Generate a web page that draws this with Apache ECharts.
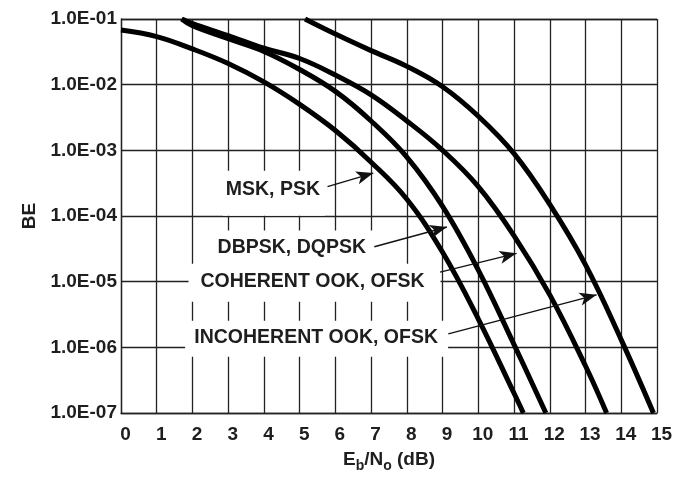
<!DOCTYPE html>
<html>
<head>
<meta charset="utf-8">
<script src="https://cdn.jsdelivr.net/npm/echarts@6/dist/echarts.min.js"></script>
<style>
  html, body { margin: 0; padding: 0; background: #fff; }
  #chart { width: 680px; height: 478px; }
</style>
</head>
<body>
<div id="chart"></div>
<script>
// Eb/No (dB) vs BE
const ebnoMsk = [0, 1, 2, 3, 4, 5, 6, 7, 8, 9, 10, 11, 11.26]
const beMsk = [6.8e-2, 5.4e-2, 3.5e-2, 2.1e-2, 1.1e-2, 5.0e-3, 2.0e-3, 6.6e-4, 1.8e-4, 2.8e-5, 2.7e-6, 2.0e-7, 1.0e-7]

const ebnoDbpsk = [1.7, 2, 3, 4, 5, 6, 7, 8, 9, 10, 11, 11.89]
const beDbpsk = [1.0e-1, 7.9e-2, 5.0e-2, 3.2e-2, 1.7e-2, 7.9e-3, 2.8e-3, 7.9e-4, 1.4e-4, 1.5e-5, 1.1e-6, 1.0e-7]

const ebnoCoherent = [1.7, 2, 3, 4, 5, 6, 7, 8, 9, 10, 11, 12, 13, 13.59]
const beCoherent = [1.0e-1, 8.5e-2, 5.6e-2, 3.6e-2, 2.5e-2, 1.4e-2, 7.0e-3, 2.8e-3, 1.0e-3, 2.8e-4, 5.0e-5, 6.3e-6, 5.2e-7, 1.0e-7]

const ebnoIncoherent = [5.15, 6, 7, 8, 9, 10, 11, 12, 13, 14, 14.9]
const beIncoherent = [1.0e-1, 5.9e-2, 3.3e-2, 1.9e-2, 9.3e-3, 3.3e-3, 8.9e-4, 1.5e-4, 1.8e-5, 1.3e-6, 1.0e-7]

const xTicks = [0, 1, 2, 3, 4, 5, 6, 7, 8, 9, 10, 11, 12, 13, 14, 15]

// callouts (data coordinates)
const labelText = ['MSK, PSK', 'DBPSK, DQPSK', 'COHERENT OOK, OFSK', 'INCOHERENT OOK, OFSK']
const labelAt = [[4.25, 2.5e-4], [4.78, 3.3e-5], [5.36, 1.0e-5], [5.46, 1.4e-6]]
const arrowTail = [[5.78, 2.8e-4], [7.09, 3.4e-5], [8.93, 1.4e-5], [9.16, 1.6e-6]]
const arrowTip = [[7.06, 4.5e-4], [9.12, 6.8e-5], [11.07, 2.7e-5], [13.31, 6.3e-6]]
// white boxes behind the callout text: [dx, dy, w, h] in px from text centre
const labelBox = [[-50, -19, 102, 45], [-82, -17, 166, 34], [-124, -18, 252, 38], [-131, -17, 263, 36]]

const FONT = '"Liberation Sans", Arial, sans-serif'
const INK = '#1e1e1e'

const curveX = [ebnoMsk, ebnoDbpsk, ebnoCoherent, ebnoIncoherent]
const curveY = [beMsk, beDbpsk, beCoherent, beIncoherent]

const chart = echarts.init(document.getElementById('chart'))

const option = {
  animation: false,
  backgroundColor: '#fff',
  grid: { left: 121, right: 23, top: 19, bottom: 60 },
  xAxis: {
    type: 'value',
    min: xTicks[0],
    max: xTicks[xTicks.length - 1],
    interval: 1,
    name: '{m|E}{s|b}{m|/N}{s|o}{m| (dB)}',
    nameLocation: 'middle',
    nameGap: 34,
    nameTextStyle: {
      rich: {
        m: { fontFamily: FONT, fontSize: 19, fontWeight: 'bold', color: INK, lineHeight: 26 },
        s: { fontFamily: FONT, fontSize: 14, fontWeight: 'bold', color: INK, verticalAlign: 'bottom' }
      }
    },
    axisLine: { show: true, lineStyle: { color: '#222', width: 1.3 } },
    axisTick: { show: false },
    axisLabel: {
      margin: 12,
      padding: [0, 0, 0, 9],
      fontFamily: FONT,
      fontSize: 19,
      fontWeight: 'bold',
      color: INK
    },
    splitLine: { show: true, lineStyle: { color: '#222', width: 1.3 } }
  },
  yAxis: {
    type: 'log',
    logBase: 10,
    min: 1e-7,
    max: 1e-1,
    name: 'BE',
    nameLocation: 'middle',
    nameGap: 82,
    nameTextStyle: { fontFamily: FONT, fontSize: 19, fontWeight: 'bold', color: INK },
    axisLine: { show: true, lineStyle: { color: '#222', width: 1.3 } },
    axisTick: { show: false },
    axisLabel: {
      margin: 4,
      fontFamily: FONT,
      fontSize: 19,
      fontWeight: 'bold',
      color: INK,
      formatter: v => '1.0E-0' + Math.round(-Math.log10(v))
    },
    splitLine: { show: true, lineStyle: { color: '#222', width: 1.3 } }
  },
  series: labelText.map((name, i) => ({
    name,
    type: 'line',
    data: curveX[i].map((x, j) => [x, curveY[i][j]]),
    showSymbol: false,
    smooth: 0.4,
    lineStyle: { color: '#000', width: 5 },
    silent: true,
    z: 3,
    markLine: {
      silent: true,
      symbol: ['none', 'arrow'],
      symbolSize: [10, 17],
      label: { show: false },
      lineStyle: { color: '#111', width: 1.4, type: 'solid' },
      data: [[{ coord: arrowTail[i] }, { coord: arrowTip[i] }]]
    }
  }))
}

chart.setOption(option)

// callout text with white box, placed from data coordinates
const callouts = labelText.map((text, i) => {
  const p = chart.convertToPixel({ gridIndex: 0 }, labelAt[i])
  const b = labelBox[i]
  return {
    type: 'group',
    x: p[0],
    y: p[1],
    z: 1,
    children: [
      { type: 'rect', z: 1, shape: { x: b[0], y: b[1], width: b[2], height: b[3] }, style: { fill: '#fff' } },
      {
        type: 'text',
        z: 1,
        style: {
          text,
          x: 0,
          y: 0,
          align: 'center',
          verticalAlign: 'middle',
          fontFamily: FONT,
          fontSize: 19.5,
          fontWeight: 'bold',
          fill: INK
        }
      }
    ]
  }
})

chart.setOption({ graphic: callouts })
</script>
</body>
</html>
